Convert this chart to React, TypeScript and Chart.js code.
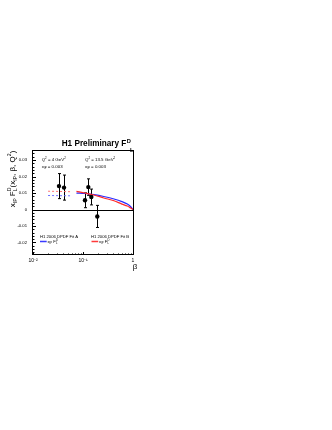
import React, { useEffect, useRef } from 'react';
import { Chart, registerables } from 'chart.js';
Chart.register(...registerables);

const FONT = '"Liberation Sans", Arial, Helvetica, sans-serif';

// ---- data ----
const betaPts = [0.0331, 0.0417, 0.1096, 0.1277, 0.1466, 0.193];
const fLPts = [0.0142, 0.0133, 0.0056, 0.0136, 0.0076, -0.0042];
const fLErr = [0.0076, 0.0076, 0.0045, 0.005, 0.0048, 0.0067];

const betaFitLow = [0.02, 0.057];
const fitALow = [0.0085, 0.0083];
const fitBLow = [0.0111, 0.0108];

const betaFit = [0.074, 0.11, 0.166, 0.26, 0.417, 0.6, 0.77, 0.9, 1.0];
const fitA = [0.01, 0.0097, 0.009, 0.0079, 0.0064, 0.0048, 0.0033, 0.0017, 0];
const fitB = [0.011, 0.01, 0.0088, 0.007, 0.0053, 0.0033, 0.0021, 0.0009, 0];

const yTicks = [-0.02, -0.01, 0, 0.01, 0.02, 0.03];
const yTickLabels = ['-0.02', '-0.01', '0', '0.01', '0.02', '0.03'];
const yMinorStep = 0.002;
const xTicks = [0.01, 0.1, 1];
const xTickLabels = ['10\u207B\u00B2', '10\u207B\u00B9', '1'];
const xRange = [0.01, 1];
const yRange = [-0.0276, 0.0355];

type Part = { t: string; k?: 'sub' | 'sup'; sub?: string };

function rich(ctx: CanvasRenderingContext2D, parts: Part[], x: number, y: number, size: number, weight: string, draw: boolean) {
  let cx = x;
  for (const p of parts) {
    if (p.sub !== undefined) {
      ctx.font = `${weight} ${size * 0.65}px ${FONT}`;
      const w1 = ctx.measureText(p.t).width;
      const w2 = ctx.measureText(p.sub).width;
      if (draw) {
        ctx.fillText(p.t, cx, y - size * 0.42);
        ctx.fillText(p.sub, cx, y + size * 0.25);
      }
      cx += Math.max(w1, w2);
    } else if (p.k) {
      ctx.font = `${weight} ${size * 0.65}px ${FONT}`;
      const w = ctx.measureText(p.t).width;
      if (draw) ctx.fillText(p.t, cx, p.k === 'sub' ? y + size * 0.25 : y - size * 0.42);
      cx += w;
    } else {
      ctx.font = `${weight} ${size}px ${FONT}`;
      const w = ctx.measureText(p.t).width;
      if (draw) ctx.fillText(p.t, cx, y);
      cx += w;
    }
  }
  return cx - x;
}

const rootPlugin = {
  id: 'rootDecor',
  beforeDatasetsDraw(chart: any) {
    const { ctx, chartArea: a, scales } = chart;
    const x = scales.x, y = scales.y;
    ctx.save();
    ctx.strokeStyle = '#000';
    ctx.lineWidth = 1;
    const y0 = Math.round(y.getPixelForValue(0)) + 0.5;
    ctx.beginPath();
    ctx.moveTo(a.left, y0);
    ctx.lineTo(a.right, y0);
    ctx.stroke();
    // error bars
    ctx.lineWidth = 1;
    for (let i = 0; i < betaPts.length; i++) {
      const px = Math.round(x.getPixelForValue(betaPts[i])) + 0.5;
      const t = y.getPixelForValue(fLPts[i] + fLErr[i]);
      const b = y.getPixelForValue(fLPts[i] - fLErr[i]);
      ctx.beginPath();
      ctx.moveTo(px, t);
      ctx.lineTo(px, b);
      ctx.moveTo(px - 1.5, t);
      ctx.lineTo(px + 1.5, t);
      ctx.moveTo(px - 1.5, b);
      ctx.lineTo(px + 1.5, b);
      ctx.stroke();
    }
    ctx.restore();
  },
  afterDraw(chart: any) {
    const { ctx, chartArea: a, scales } = chart;
    const x = scales.x, y = scales.y;
    ctx.save();
    ctx.strokeStyle = '#000';
    ctx.lineWidth = 1;
    ctx.strokeRect(Math.round(a.left) - 0.5, Math.round(a.top) - 0.5, Math.round(a.right - a.left) + 1, Math.round(a.bottom - a.top));
    // y ticks
    ctx.beginPath();
    for (let v = -0.026; v <= yRange[1] + 1e-9; v += yMinorStep) {
      const isMajor = Math.abs(v * 100 - Math.round(v * 100)) < 1e-6;
      const py = Math.round(y.getPixelForValue(v)) + 0.5;
      ctx.moveTo(a.left, py);
      ctx.lineTo(a.left + (isMajor ? 3 : 1.5), py);
    }
    // x ticks
    for (let d = -2; d < 0; d++) {
      for (let m = 1; m <= 10; m++) {
        const v = m * Math.pow(10, d);
        const px = Math.round(x.getPixelForValue(v)) + 0.5;
        const major = m === 1 || m === 10;
        ctx.moveTo(px, a.bottom);
        ctx.lineTo(px, a.bottom - (major ? 3 : 1.5));
      }
    }
    ctx.stroke();

    ctx.fillStyle = '#000';
    ctx.textBaseline = 'alphabetic';
    ctx.textAlign = 'left';
    // title
    const tSize = 8.2;
    const tw = rich(ctx, [{ t: 'H1 Preliminary F' }], 61.7, 146, tSize, 'bold', true);
    ctx.font = `bold ${tSize * 0.7}px ${FONT}`;
    ctx.fillText('D', 61.7 + tw + 0.5, 142.5);
    ctx.fillText('L', 130, 151.5);

    // annotations
    const aSize = 4.4;
    rich(ctx, [{ t: 'Q' }, { t: '2', k: 'sup' }, { t: ' = 4 GeV' }, { t: '2', k: 'sup' }], 41.7, 160.6, aSize, 'normal', true);
    rich(ctx, [{ t: 'x' }, { t: 'IP', k: 'sub' }, { t: ' = 0.003' }], 41.7, 168.3, aSize, 'normal', true);
    rich(ctx, [{ t: 'Q' }, { t: '2', k: 'sup' }, { t: ' = 13.5 GeV' }, { t: '2', k: 'sup' }], 85, 160.6, aSize, 'normal', true);
    rich(ctx, [{ t: 'x' }, { t: 'IP', k: 'sub' }, { t: ' = 0.003' }], 85, 168.3, aSize, 'normal', true);

    // legends
    const lSize = 4.2;
    rich(ctx, [{ t: 'H1 2006 DPDF Fit A' }], 40, 237.6, lSize, 'normal', true);
    rich(ctx, [{ t: 'H1 2006 DPDF Fit B' }], 91, 237.6, lSize, 'normal', true);
    ctx.lineWidth = 1.5;
    ctx.strokeStyle = '#3a3aff';
    ctx.beginPath();
    ctx.moveTo(40, 241.5);
    ctx.lineTo(46.7, 241.5);
    ctx.stroke();
    ctx.strokeStyle = '#ff3a3a';
    ctx.beginPath();
    ctx.moveTo(91.5, 241.5);
    ctx.lineTo(98.2, 241.5);
    ctx.stroke();
    const fl: Part[] = [{ t: 'x' }, { t: 'IP', k: 'sub' }, { t: ' F' }, { t: 'D', sub: 'L' }];
    rich(ctx, fl, 47.5, 243, lSize, 'normal', true);
    rich(ctx, fl, 99, 243, lSize, 'normal', true);

    // y title
    const ySize = 8;
    const yParts: Part[] = [
      { t: 'x' }, { t: 'IP', k: 'sub' }, { t: ' F' }, { t: 'D', sub: 'L' },
      { t: '(x' }, { t: 'IP', k: 'sub' }, { t: ', \u03B2, Q' }, { t: '2', k: 'sup' }, { t: ')' },
    ];
    const yw = rich(ctx, yParts, 0, 0, ySize, 'normal', false);
    ctx.save();
    ctx.translate(14.5, 179 + yw / 2);
    ctx.rotate(-Math.PI / 2);
    rich(ctx, yParts, 0, 0, ySize, 'normal', true);
    ctx.restore();

    // x title
    ctx.font = `normal 8px ${FONT}`;
    ctx.textAlign = 'center';
    ctx.fillText('\u03B2', 135, 269);
    ctx.restore();
  },
};

export default function App() {
  const ref = useRef<HTMLCanvasElement | null>(null);
  useEffect(() => {
    if (!ref.current) return;
    const chart = new Chart(ref.current, {
      type: 'line',
      data: {
        datasets: [
          {
            label: 'H1 data',
            data: betaPts.map((b, i) => ({ x: b, y: fLPts[i] })),
            showLine: false,
            pointRadius: 2.2,
            pointBackgroundColor: '#000',
            pointBorderColor: '#000',
            borderColor: '#000',
            pointBorderWidth: 0,
            order: 0,
          },
          {
            label: 'Fit A',
            data: betaFit.map((b, i) => ({ x: b, y: fitA[i] })),
            borderColor: '#2a2aff',
            borderWidth: 1.2,
            pointRadius: 0,
            cubicInterpolationMode: 'monotone',
            order: 2,
          },
          {
            label: 'Fit B',
            data: betaFit.map((b, i) => ({ x: b, y: fitB[i] })),
            borderColor: '#ff2a2a',
            borderWidth: 1.2,
            pointRadius: 0,
            cubicInterpolationMode: 'monotone',
            order: 1,
          },
          {
            label: 'Fit A low',
            data: betaFitLow.map((b, i) => ({ x: b, y: fitALow[i] })),
            borderColor: '#7070ff',
            borderWidth: 1,
            borderDash: [2, 2],
            pointRadius: 0,
            order: 3,
          },
          {
            label: 'Fit B low',
            data: betaFitLow.map((b, i) => ({ x: b, y: fitBLow[i] })),
            borderColor: '#ff7070',
            borderWidth: 1,
            borderDash: [2, 2],
            pointRadius: 0,
            order: 3,
          },
        ],
      },
      options: {
        responsive: false,
        animation: false,
        layout: { padding: { left: 0, top: 151, right: 199, bottom: 0 } },
        plugins: { legend: { display: false }, tooltip: { enabled: false } },
        scales: {
          x: {
            type: 'logarithmic',
            position: 'bottom',
            min: xRange[0],
            max: xRange[1],
            grid: { display: false, drawTicks: false },
            border: { display: false },
            afterBuildTicks: (s: any) => {
              s.ticks = xTicks.map((v) => ({ value: v }));
            },
            afterFit: (s: any) => {
              s.height = 175;
            },
            ticks: {
              autoSkip: false,
              maxRotation: 0,
              minRotation: 0,
              padding: 3,
              color: '#000',
              font: { family: FONT, size: 5 },
              callback: (_v: any, i: number) => xTickLabels[i],
            },
          },
          y: {
            type: 'linear',
            position: 'left',
            min: yRange[0],
            max: yRange[1],
            grid: { display: false, drawTicks: false },
            border: { display: false },
            afterBuildTicks: (s: any) => {
              s.ticks = yTicks.map((v) => ({ value: v }));
            },
            afterFit: (s: any) => {
              s.width = 33;
            },
            ticks: {
              padding: 6,
              color: '#000',
              font: { family: FONT, size: 4.2 },
              callback: (_v: any, i: number) => yTickLabels[i],
            },
          },
        },
      } as any,
      plugins: [rootPlugin],
    });
    return () => chart.destroy();
  }, []);
  return (
    <div style={{ position: 'absolute', left: 0, top: 0, width: 332, height: 430 }}>
      <canvas ref={ref} width={332} height={430} />
    </div>
  );
}
